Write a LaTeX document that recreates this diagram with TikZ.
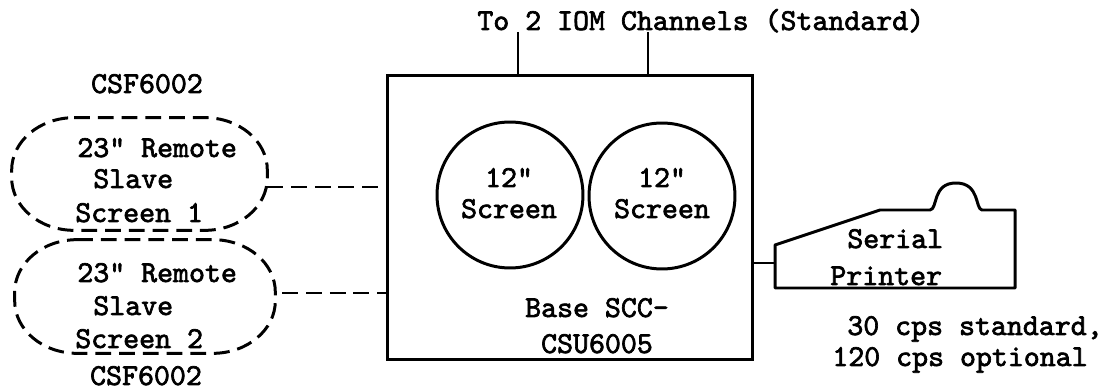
\documentclass[tikz,border=0pt]{standalone}
\usepackage{fontspec}
\setmonofont{lmmono10-regular}[Extension=.otf,FakeBold=2.2]
\newcommand\remoteoval[1]{%
  \draw[dashline] ([xshift=1.25cm]#1.north west) -- ([xshift=-1.25cm]#1.north east)
    arc[start angle=90,end angle=0,x radius=1.25cm,y radius=1.05cm]
    -- ([yshift=1.05cm]#1.south east)
    arc[start angle=0,end angle=-90,x radius=1.25cm,y radius=1.05cm]
    -- ([xshift=1.25cm]#1.south west)
    arc[start angle=270,end angle=180,x radius=1.25cm,y radius=1.05cm]
    -- ([yshift=-1.05cm]#1.north west)
    arc[start angle=180,end angle=90,x radius=1.25cm,y radius=1.05cm] -- cycle;}
\begin{document}
\begin{tikzpicture}[x=0.02cm,y=-0.02cm,
  txt/.style={font=\ttfamily\fontsize{17.3}{19}\selectfont,inner sep=0pt},
  lw/.style={line width=1.7pt},
  dashline/.style={lw,dash pattern=on 9pt off 4.5pt},
  remote/.style={rectangle,inner sep=0pt},
  screen/.style={lw,draw,circle,minimum size=2.92cm,inner sep=0pt}]
\useasboundingbox (0,0) rectangle (1106,391);
\fill[white] (0,0) rectangle (1106,391);
% main box
\node[lw,draw,rectangle,inner sep=0pt,minimum width=7.32cm,minimum height=5.7cm] (box) at (570,217.5) {};
\node[screen] (s1) at (510,195) {};
\node[screen] (s2) at (662,196) {};
\node[txt,anchor=base] (s1a) at (509,187) {12"};
\node[txt,anchor=base] (s1b) at (509,218) {Screen};
\node[txt,anchor=base] (s2a) at (662,187) {12"};
\node[txt,anchor=base] (s2b) at (662,218) {Screen};
\node[txt,anchor=base] (b1) at (597,317) {Base SCC-};
\node[txt,anchor=base] (b2) at (597,353) {CSU6005};
% top leads
\node[txt,anchor=base west] (top) at (477,30) {To 2 IOM Channels (Standard)};
\coordinate (t1) at (518,32);
\coordinate (t2) at (648,32);
\draw[lw] (t1) -- (t1 |- box.north);
\draw[lw] (t2) -- (t2 |- box.north);
% remote screens
\node[remote,minimum width=5.1cm,minimum height=2.24cm] (e1) at (139.5,174) {};
\node[remote,minimum width=5.2cm,minimum height=2.26cm] (e2) at (145,296.5) {};
\remoteoval{e1}
\remoteoval{e2}
\node[txt,anchor=base] (csf1) at (147,93) {CSF6002};
\node[txt,anchor=base west] (e1a) at (77,157) {23" Remote};
\node[txt,anchor=base west] (e1b) at (93,188) {Slave};
\node[txt,anchor=base west] (e1c) at (75,222) {Screen 1};
\node[txt,anchor=base west] (e2a) at (77,282) {23" Remote};
\node[txt,anchor=base west] (e2b) at (93,315) {Slave};
\node[txt,anchor=base west] (e2c) at (75,348) {Screen 2};
\node[txt,anchor=base] (csf2) at (146,385) {CSF6002};
\coordinate (c1) at (0,187);
\coordinate (c2) at (0,293);
\draw[dashline] (e1.east |- c1) -- (box.west |- c1);
\draw[dashline,shorten <=0.14cm] (e2.east |- c2) -- (box.west |- c2);
% printer
\draw[lw,line join=round] (775,288) -- (775,245) -- (880,210) -- (930,210)
  .. controls (938,209) and (932,183) .. (956,183)
  .. controls (980,183) and (975,209) .. (982,210)
  -- (1015,210) -- (1015,288) -- cycle;
\coordinate (pl) at (775,263);
\draw[lw] (box.east |- pl) -- (pl);
\node[txt,anchor=base west] (pr1) at (847,248) {Serial};
\node[txt,anchor=base west] (pr2) at (830,285) {Printer};
\node[txt,anchor=base west] (sp1) at (847,335) {30 cps standard,};
\node[txt,anchor=base west] (sp2) at (832,366) {120 cps optional};
\end{tikzpicture}
\end{document}
